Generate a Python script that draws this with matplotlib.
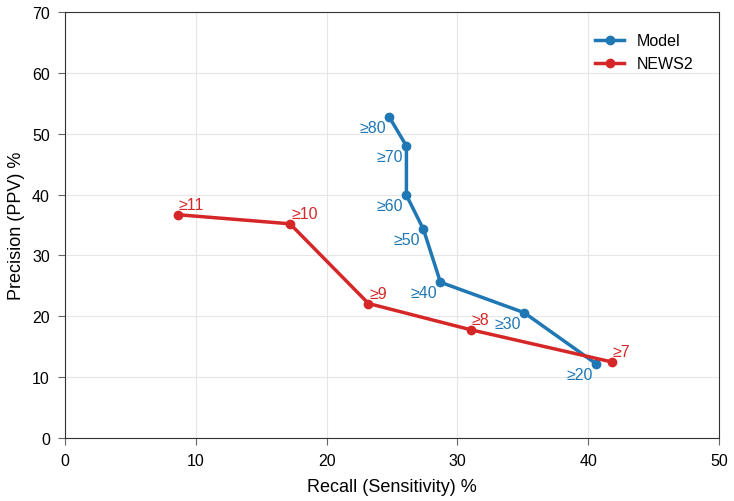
import matplotlib.pyplot as plt

plt.rcParams["font.family"] = ["Liberation Sans", "DejaVu Sans"]

model_recall = [24.8, 26.1, 26.1, 27.4, 28.7, 35.1, 40.6]
model_ppv = [52.7, 48.0, 39.9, 34.3, 25.6, 20.6, 12.2]
model_labels = ["≥80", "≥70", "≥60", "≥50", "≥40", "≥30", "≥20"]

news_recall = [8.6, 17.2, 23.2, 31.0, 41.8]
news_ppv = [36.7, 35.2, 22.1, 17.8, 12.5]
news_labels = ["≥11", "≥10", "≥9", "≥8", "≥7"]

blue = "#1f77b4"
red = "#d62728"

fig = plt.figure(figsize=(7.34, 5.02), dpi=100)
ax = fig.add_axes([0.0886, 0.1255, 0.891, 0.8485])

ax.plot(model_recall, model_ppv, "o-", color=blue, linewidth=2.5, markersize=6, label="Model")
ax.plot(news_recall, news_ppv, "o-", color=red, linewidth=2.5, markersize=6, label="NEWS2")

for x, y, t in zip(model_recall, model_ppv, model_labels):
    ax.annotate(t, (x, y), xytext=(-3, -3), textcoords="offset pixels",
                ha="right", va="top", color=blue, fontsize=11.5)
for x, y, t in zip(news_recall, news_ppv, news_labels):
    ax.annotate(t, (x, y), xytext=(1, 3), textcoords="offset pixels",
                ha="left", va="bottom", color=red, fontsize=11.5)

ax.set_xlim(0, 50)
ax.set_ylim(0, 70)
ax.set_xlabel("Recall (Sensitivity) %", fontsize=13, labelpad=7)
ax.set_ylabel("Precision (PPV) %", fontsize=13, labelpad=5)
ax.tick_params(labelsize=11.5, length=5, color="#666666", pad=6)
for s in ax.spines.values():
    s.set_color("#333333")
ax.grid(True, color="#e6e6e6", linewidth=0.8)
ax.set_axisbelow(True)
ax.legend(loc="upper right", bbox_to_anchor=(0.99, 0.995), frameon=False,
          fontsize=11.5, borderaxespad=0.8, handlelength=1.8)

plt.savefig("out.png", dpi=100)
